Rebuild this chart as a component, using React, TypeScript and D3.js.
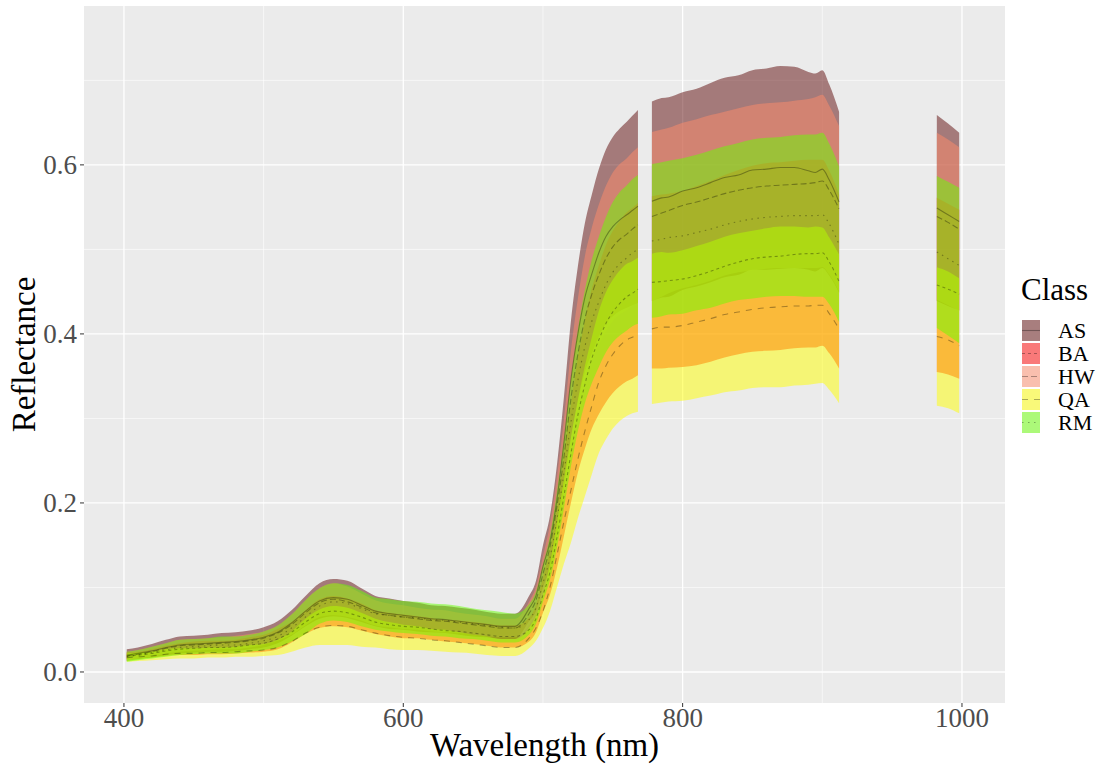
import React from "react";
import * as d3 from "d3";

// Wavelength grid (nm) of the averaged spectra
const wavelengths = [
  402, 410, 420, 430, 440, 450, 460, 470, 480, 490,
  500, 510, 520, 530, 540, 550, 560, 570, 580, 590,
  600, 610, 620, 630, 640, 650, 660, 670, 680,
  690, 695, 700, 705, 710, 715, 720, 725, 730, 735, 740, 745, 750, 755, 760, 764, 768,
  778, 785, 790, 800, 810, 820, 830, 840, 850, 860, 870, 880, 890, 895, 900, 905, 912,
  982, 990, 998,
];

// Water-absorption bands removed from the spectra
const bandGaps: [number, number][] = [
  [768, 778],
  [912, 982],
];

const classNames = ["AS", "BA", "HW", "QA", "RM"];

const asMean = [
  0.020, 0.022, 0.025, 0.029, 0.032, 0.033, 0.034, 0.035, 0.036, 0.038,
  0.041, 0.047, 0.058, 0.072, 0.084, 0.088, 0.086, 0.079, 0.072, 0.069,
  0.067, 0.065, 0.063, 0.062, 0.060, 0.058, 0.056, 0.054, 0.054,
  0.075, 0.090, 0.125, 0.154, 0.204, 0.271, 0.346, 0.400, 0.443, 0.471, 0.496, 0.515, 0.527, 0.535, 0.541, 0.546, 0.551,
  0.557, 0.561, 0.562, 0.569, 0.573, 0.579, 0.585, 0.588, 0.594, 0.595, 0.597, 0.597, 0.593, 0.591, 0.595, 0.582, 0.556,
  0.549, 0.541, 0.533,
];
const asSd = [
  0.007, 0.007, 0.008, 0.009, 0.010, 0.010, 0.010, 0.011, 0.011, 0.011,
  0.012, 0.013, 0.015, 0.018, 0.021, 0.022, 0.022, 0.020, 0.018, 0.018,
  0.017, 0.017, 0.016, 0.016, 0.016, 0.016, 0.015, 0.015, 0.015,
  0.015, 0.018, 0.025, 0.031, 0.041, 0.054, 0.069, 0.080, 0.088, 0.094, 0.099, 0.103, 0.106, 0.108, 0.110, 0.112, 0.114,
  0.118, 0.118, 0.118, 0.117, 0.117, 0.118, 0.118, 0.118, 0.118, 0.119, 0.120, 0.119, 0.117, 0.117, 0.117, 0.113, 0.107,
  0.110, 0.108, 0.105,
];

const baMean = [
  0.019, 0.020, 0.022, 0.025, 0.027, 0.028, 0.029, 0.029, 0.030, 0.032,
  0.034, 0.039, 0.047, 0.059, 0.069, 0.072, 0.070, 0.065, 0.059, 0.056,
  0.054, 0.053, 0.051, 0.049, 0.048, 0.046, 0.044, 0.042, 0.042,
  0.050, 0.063, 0.091, 0.118, 0.159, 0.208, 0.258, 0.304, 0.340, 0.371, 0.393, 0.412, 0.426, 0.436, 0.444, 0.448, 0.453,
  0.461, 0.462, 0.463, 0.465, 0.469, 0.474, 0.480, 0.485, 0.489, 0.491, 0.492, 0.494, 0.495, 0.495, 0.496, 0.485, 0.462,
  0.458, 0.453, 0.447,
];
const baSd = [
  0.004, 0.004, 0.005, 0.006, 0.007, 0.008, 0.008, 0.008, 0.008, 0.009,
  0.010, 0.012, 0.012, 0.014, 0.017, 0.018, 0.017, 0.016, 0.014, 0.014,
  0.014, 0.013, 0.013, 0.013, 0.013, 0.013, 0.013, 0.013, 0.013,
  0.014, 0.016, 0.021, 0.027, 0.036, 0.047, 0.058, 0.068, 0.076, 0.083, 0.088, 0.093, 0.096, 0.098, 0.100, 0.101, 0.102,
  0.102, 0.103, 0.103, 0.104, 0.106, 0.107, 0.108, 0.109, 0.110, 0.111, 0.111, 0.111, 0.111, 0.111, 0.110, 0.108, 0.103,
  0.103, 0.101, 0.100,
];

const hwMean = [
  0.019, 0.021, 0.024, 0.028, 0.031, 0.032, 0.033, 0.034, 0.035, 0.037,
  0.040, 0.046, 0.056, 0.070, 0.082, 0.086, 0.083, 0.077, 0.070, 0.067,
  0.065, 0.063, 0.061, 0.060, 0.058, 0.056, 0.054, 0.052, 0.052,
  0.069, 0.085, 0.116, 0.148, 0.196, 0.254, 0.323, 0.376, 0.418, 0.447, 0.470, 0.489, 0.503, 0.512, 0.518, 0.524, 0.529,
  0.539, 0.543, 0.546, 0.552, 0.556, 0.561, 0.566, 0.570, 0.573, 0.575, 0.576, 0.577, 0.578, 0.579, 0.581, 0.570, 0.548,
  0.539, 0.532, 0.524,
];
const hwSd = [
  0.005, 0.005, 0.006, 0.006, 0.007, 0.007, 0.007, 0.007, 0.008, 0.008,
  0.008, 0.009, 0.012, 0.015, 0.017, 0.019, 0.018, 0.016, 0.015, 0.014,
  0.014, 0.013, 0.013, 0.013, 0.012, 0.012, 0.012, 0.011, 0.011,
  0.014, 0.016, 0.021, 0.027, 0.035, 0.045, 0.057, 0.066, 0.074, 0.079, 0.083, 0.086, 0.088, 0.089, 0.090, 0.091, 0.092,
  0.100, 0.099, 0.098, 0.098, 0.098, 0.098, 0.097, 0.097, 0.098, 0.098, 0.098, 0.099, 0.100, 0.101, 0.102, 0.100, 0.098,
  0.099, 0.098, 0.097,
];

const qaMean = [
  0.017, 0.018, 0.019, 0.021, 0.022, 0.022, 0.023, 0.023, 0.024, 0.025,
  0.026, 0.029, 0.036, 0.046, 0.053, 0.055, 0.054, 0.050, 0.046, 0.043,
  0.041, 0.040, 0.038, 0.037, 0.035, 0.033, 0.031, 0.029, 0.029,
  0.040, 0.052, 0.072, 0.100, 0.138, 0.178, 0.215, 0.252, 0.285, 0.315, 0.343, 0.362, 0.376, 0.386, 0.393, 0.396, 0.399,
  0.406, 0.408, 0.408, 0.410, 0.414, 0.418, 0.423, 0.426, 0.429, 0.431, 0.432, 0.433, 0.433, 0.434, 0.434, 0.424, 0.406,
  0.397, 0.393, 0.386,
];
const qaSd = [
  0.005, 0.005, 0.005, 0.006, 0.006, 0.006, 0.006, 0.006, 0.006, 0.007,
  0.007, 0.009, 0.012, 0.017, 0.021, 0.023, 0.022, 0.020, 0.017, 0.016,
  0.015, 0.014, 0.013, 0.013, 0.012, 0.011, 0.011, 0.010, 0.010,
  0.012, 0.015, 0.020, 0.028, 0.038, 0.050, 0.062, 0.070, 0.077, 0.081, 0.084, 0.087, 0.088, 0.089, 0.090, 0.090, 0.091,
  0.089, 0.089, 0.088, 0.089, 0.090, 0.091, 0.092, 0.093, 0.093, 0.094, 0.095, 0.094, 0.093, 0.093, 0.092, 0.090, 0.088,
  0.082, 0.081, 0.080,
];

const rmMean = [
  0.018, 0.020, 0.023, 0.026, 0.029, 0.030, 0.031, 0.032, 0.032, 0.034,
  0.037, 0.042, 0.052, 0.065, 0.078, 0.083, 0.081, 0.075, 0.069, 0.067,
  0.065, 0.064, 0.062, 0.061, 0.059, 0.057, 0.055, 0.053, 0.052,
  0.062, 0.076, 0.105, 0.135, 0.180, 0.235, 0.295, 0.345, 0.385, 0.415, 0.438, 0.458, 0.473, 0.483, 0.490, 0.496, 0.500,
  0.510, 0.512, 0.514, 0.516, 0.520, 0.524, 0.529, 0.533, 0.536, 0.538, 0.539, 0.540, 0.540, 0.540, 0.541, 0.530, 0.506,
  0.497, 0.489, 0.481,
];
const rmSd = [
  0.006, 0.006, 0.007, 0.008, 0.009, 0.009, 0.009, 0.010, 0.010, 0.010,
  0.011, 0.013, 0.016, 0.020, 0.021, 0.022, 0.022, 0.021, 0.019, 0.019,
  0.019, 0.019, 0.019, 0.019, 0.019, 0.018, 0.018, 0.018, 0.017,
  0.018, 0.019, 0.022, 0.026, 0.033, 0.041, 0.052, 0.060, 0.067, 0.073, 0.077, 0.080, 0.083, 0.085, 0.086, 0.087, 0.088,
  0.091, 0.091, 0.091, 0.092, 0.092, 0.093, 0.093, 0.093, 0.094, 0.094, 0.094, 0.095, 0.096, 0.096, 0.097, 0.095, 0.092,
  0.090, 0.091, 0.092,
];

const xTicks = [400, 600, 800, 1000];
const xMinorTicks = [500, 700, 900];
const yTicks = [0, 0.2, 0.4, 0.6];
const yMinorTicks = [0.1, 0.3, 0.5, 0.7];

const seriesMean: Record<string, number[]> = { AS: asMean, BA: baMean, HW: hwMean, QA: qaMean, RM: rmMean };
const seriesSd: Record<string, number[]> = { AS: asSd, BA: baSd, HW: hwSd, QA: qaSd, RM: rmSd };

const fillColors: Record<string, string> = {
  AS: "#5E0A0A",
  BA: "#FF0000",
  HW: "#FF8C69",
  QA: "#FFFF00",
  RM: "#66FF00",
};
const dashPatterns: Record<string, string | undefined> = {
  AS: undefined,
  BA: "3,3",
  HW: "6,3",
  QA: "6,6",
  RM: "1.5,4.5",
};

const W = 1110;
const H = 767;
const panel = { left: 84, right: 1005, top: 6, bottom: 703 };
const FONT = "'Liberation Serif', 'Times New Roman', serif";
const RIBBON_ALPHA = 0.5;

type Pt = { w: number; m: number; s: number };

function segmentOf(w: number): number {
  return bandGaps.filter((g) => w >= g[1]).length;
}

export default function App() {
  const x = d3.scaleLinear().domain([371.4, 1030.8]).range([panel.left, panel.right]);
  const y = d3.scaleLinear().domain([-0.0367, 0.788]).range([panel.bottom, panel.top]);

  const segmentsFor = (cls: string): Pt[][] => {
    const groups = d3.group(
      wavelengths.map((w, i) => ({ w, m: seriesMean[cls][i], s: seriesSd[cls][i] })),
      (d) => segmentOf(d.w)
    );
    return Array.from(groups.values());
  };

  const ribbon = d3
    .area<Pt>()
    .x((d) => x(d.w))
    .y0((d) => y(d.m - d.s))
    .y1((d) => y(d.m + d.s))
    .curve(d3.curveMonotoneX);
  const meanLine = d3
    .line<Pt>()
    .x((d) => x(d.w))
    .y((d) => y(d.m))
    .curve(d3.curveMonotoneX);

  const legendTop = 320;
  const keyStep = 23;

  return (
    <svg width={W} height={H} style={{ display: "block", position: "absolute", left: 0, top: 0 }} fontFamily={FONT}>
      <rect x={0} y={0} width={W} height={H} fill="#ffffff" />
      <rect
        x={panel.left}
        y={panel.top}
        width={panel.right - panel.left}
        height={panel.bottom - panel.top}
        fill="#EBEBEB"
      />
      {/* grid */}
      {xMinorTicks.map((t) => (
        <line key={"xm" + t} x1={x(t)} x2={x(t)} y1={panel.top} y2={panel.bottom} stroke="#fff" strokeWidth={0.6} />
      ))}
      {yMinorTicks.map((t) => (
        <line key={"ym" + t} x1={panel.left} x2={panel.right} y1={y(t)} y2={y(t)} stroke="#fff" strokeWidth={0.6} />
      ))}
      {xTicks.map((t) => (
        <line key={"xg" + t} x1={x(t)} x2={x(t)} y1={panel.top} y2={panel.bottom} stroke="#fff" strokeWidth={1.3} />
      ))}
      {yTicks.map((t) => (
        <line key={"yg" + t} x1={panel.left} x2={panel.right} y1={y(t)} y2={y(t)} stroke="#fff" strokeWidth={1.3} />
      ))}

      {/* mean ± sd ribbons */}
      {classNames.map((cls) =>
        segmentsFor(cls).map((seg, i) => (
          <path key={cls + "r" + i} d={ribbon(seg) || ""} fill={fillColors[cls]} fillOpacity={RIBBON_ALPHA} />
        ))
      )}
      {/* mean spectra */}
      {classNames.map((cls) =>
        segmentsFor(cls).map((seg, i) => (
          <path
            key={cls + "l" + i}
            d={meanLine(seg) || ""}
            fill="none"
            stroke="#000"
            strokeOpacity={0.32}
            strokeWidth={1.1}
            strokeDasharray={dashPatterns[cls]}
          />
        ))
      )}

      {/* axes */}
      {xTicks.map((t) => (
        <g key={"xt" + t}>
          <line x1={x(t)} x2={x(t)} y1={panel.bottom} y2={panel.bottom + 4} stroke="#333" strokeWidth={1} />
          <text x={x(t)} y={727} textAnchor="middle" fontSize={27} fill="#4D4D4D">
            {t}
          </text>
        </g>
      ))}
      {yTicks.map((t) => (
        <g key={"yt" + t}>
          <line x1={panel.left - 4} x2={panel.left} y1={y(t)} y2={y(t)} stroke="#333" strokeWidth={1} />
          <text x={77} y={y(t)} dy="0.35em" textAnchor="end" fontSize={27} fill="#4D4D4D">
            {d3.format(".1f")(t)}
          </text>
        </g>
      ))}
      <text x={(panel.left + panel.right) / 2} y={756} textAnchor="middle" fontSize={33} fill="#000">
        Wavelength (nm)
      </text>
      <text
        transform={`translate(35,${(panel.top + panel.bottom) / 2}) rotate(-90)`}
        textAnchor="middle"
        fontSize={33}
        fill="#000"
      >
        Reflectance
      </text>

      {/* legend */}
      <text x={1021} y={300} fontSize={31} fill="#000">
        Class
      </text>
      {classNames.map((cls, i) => {
        const ky = legendTop + i * keyStep;
        return (
          <g key={"lg" + cls}>
            <rect x={1022} y={ky} width={18} height={21} fill="#F2F2F2" />
            <rect x={1022} y={ky} width={18} height={21} fill={fillColors[cls]} fillOpacity={RIBBON_ALPHA} />
            <line
              x1={1022}
              x2={1040}
              y1={ky + 10.5}
              y2={ky + 10.5}
              stroke="#000"
              strokeOpacity={0.32}
              strokeWidth={1.1}
              strokeDasharray={dashPatterns[cls]}
            />
            <text x={1058} y={ky + 10.5} dy="0.35em" fontSize={22} fill="#000">
              {cls}
            </text>
          </g>
        );
      })}
    </svg>
  );
}
